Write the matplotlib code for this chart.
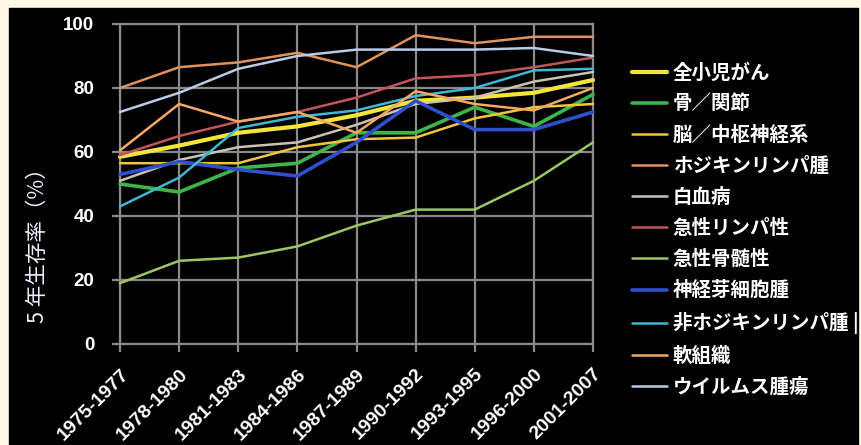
import matplotlib.pyplot as plt
from matplotlib.patches import Rectangle
from matplotlib.font_manager import FontProperties

plt.rcParams['font.family'] = ['Noto Sans CJK JP', 'DejaVu Sans']

periods = ['1975-1977', '1978-1980', '1981-1983', '1984-1986', '1987-1989',
           '1990-1992', '1993-1995', '1996-2000', '2001-2007']

all_cancer   = [58.5, 62, 66, 68, 71.5, 76, 77, 78.5, 82.5]
bone_joint   = [50, 47.5, 55, 56.5, 66, 66, 74, 68, 78]
brain_cns    = [56.5, 56.5, 56.5, 61.5, 64, 64.5, 70.5, 74, 75]
hodgkin      = [80, 86.5, 88, 91, 86.5, 96.5, 94, 96, 96]
leukemia     = [51, 57.5, 61.5, 63, 68.5, 75, 77, 82, 85]
all_lymph    = [59, 65, 69.5, 72.5, 77, 83, 84, 86.5, 89.5]
aml          = [19, 26, 27, 30.5, 37, 42, 42, 51, 63]
neuroblast   = [53, 57, 54.5, 52.5, 63, 76, 67, 67, 72.5]
non_hodgkin  = [43, 52, 67.5, 71, 73, 77.5, 80, 85.5, 86]
soft_tissue  = [60.5, 75, 69.5, 72.5, 66, 79, 75, 73, 80]
wilms        = [72.5, 78.5, 86, 90, 92, 92, 92, 92.5, 90]

series = [
    ('全小児がん', all_cancer, '#F3E63A', 3.0),
    ('骨／関節', bone_joint, '#3DB54A', 2.6),
    ('脳／中枢神経系', brain_cns, '#F2C53A', 1.8),
    ('ホジキンリンパ腫', hodgkin, '#E0925A', 1.8),
    ('白血病', leukemia, '#C9C3B4', 1.8),
    ('急性リンパ性', all_lymph, '#C2555C', 1.8),
    ('急性骨髄性', aml, '#9CC564', 1.8),
    ('神経芽細胞腫', neuroblast, '#2F4FCF', 2.6),
    ('非ホジキンリンパ腫 |', non_hodgkin, '#3FB7D6', 1.8),
    ('軟組織', soft_tissue, '#F4A862', 1.8),
    ('ウイルムス腫瘍', wilms, '#B9CBE6', 1.8),
]

grid_gray = '#8a8a8a'

fig = plt.figure(figsize=(8.61, 4.45), dpi=100, facecolor='#FDFBE6')
# black panel behind everything, leaving a thin cream margin
fig.patches.append(Rectangle((9 / 861, 0), 849 / 861, 437 / 445,
                             transform=fig.transFigure, color='black', zorder=-5))

ax = fig.add_axes([120 / 861, 101 / 445, 473 / 861, 320 / 445])
ax.set_zorder(2)
ax.set_facecolor('black')

x = list(range(len(periods)))
lines = []
for label, vals, col, lw in series:
    ln, = ax.plot(x, vals, color=col, linewidth=lw, label=label,
                  clip_on=False, solid_capstyle='round', zorder=3)
    lines.append(ln)

ax.set_xlim(0, len(periods) - 1)
ax.set_ylim(0, 100)
ax.set_yticks(range(0, 101, 20))
ax.set_xticks(x)
ax.grid(True, color=grid_gray, linewidth=1.6, zorder=1)
ax.set_axisbelow(True)
for sp in ax.spines.values():
    sp.set_color(grid_gray)
    sp.set_linewidth(1.6)

ax.tick_params(color=grid_gray, length=5.5, width=1.6)
ax.tick_params(axis='y', pad=13)
ax.tick_params(axis='x', pad=10)
ax.set_yticklabels([str(v) for v in range(0, 101, 20)], color='white',
                   fontproperties=FontProperties(family='Liberation Sans', weight='bold', size=13.5))
ax.set_xticklabels(periods, color='white',
                   fontproperties=FontProperties(family='Liberation Sans', weight='bold', size=14),
                   rotation=45, ha='right', va='top', rotation_mode='anchor')

ax.set_ylabel('5 年生存率（%）', color='#EEF2FF', fontsize=15.5)
ax.yaxis.set_label_coords(-0.15, 0.325)

leg = fig.legend(handles=lines, loc='upper left', bbox_to_anchor=(632 / 861, 1 - 63 / 445),
                 frameon=False, labelcolor='white',
                 prop=FontProperties(family=['Noto Sans CJK JP', 'DejaVu Sans'], size=14, weight='bold'),
                 handlelength=1.8, handletextpad=0.3, labelspacing=0.62,
                 borderpad=0, borderaxespad=0)
leg.set_zorder(3)

fig.savefig('out.png', dpi=100, facecolor=fig.get_facecolor())
